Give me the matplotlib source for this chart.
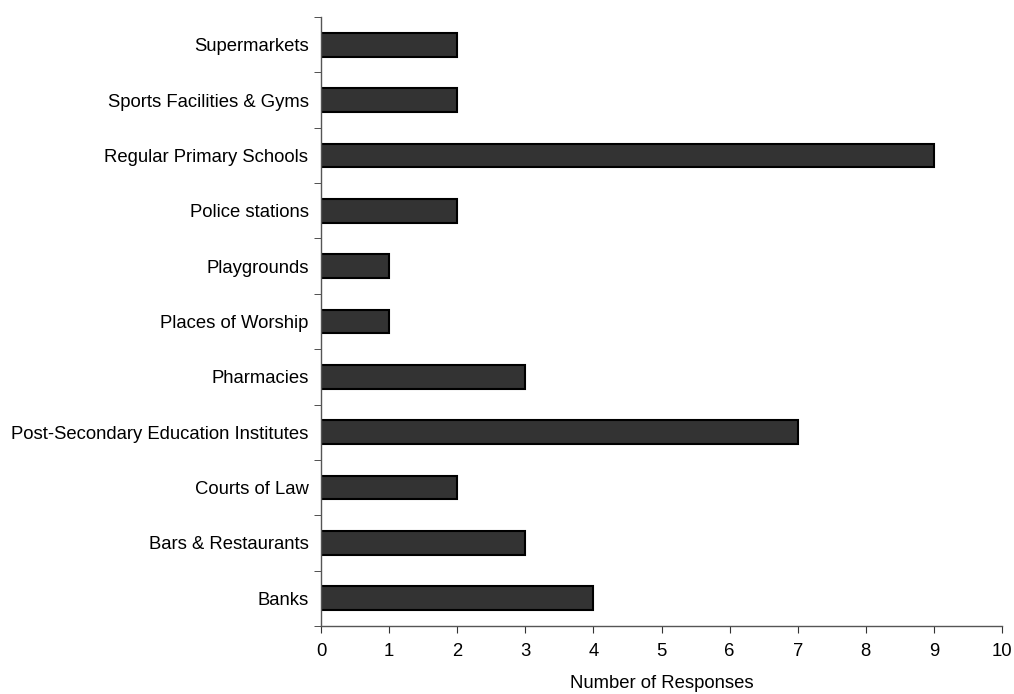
import matplotlib
matplotlib.use("Agg")
import matplotlib.pyplot as plt
import numpy as np

categories = ["Banks", "Bars & Restaurants", "Courts of Law",
              "Post-Secondary Education Institutes", "Pharmacies",
              "Places of Worship", "Playgrounds", "Police stations",
              "Regular Primary Schools", "Sports Facilities & Gyms",
              "Supermarkets"]
values = [4, 3, 2, 7, 3, 1, 1, 2, 9, 2, 2]
xticks = list(range(0, 11))

plt.rcParams['font.family'] = ['Liberation Sans', 'DejaVu Sans']
FS = 13.3

fig = plt.figure(figsize=(10.14, 6.94), dpi=100)
ax = fig.add_axes([321/1014, 1 - 626/694, (1002-321)/1014, (626-17)/694])

y = np.arange(len(categories))
ax.barh(y, values, height=0.43, color='#333333', edgecolor='black', linewidth=1.5)

ax.set_xlim(0, 10)
ax.set_ylim(-0.5, len(categories) - 0.5)
ax.set_xticks(xticks)
ax.set_xticklabels([str(t) for t in xticks], fontsize=FS)
ax.set_yticks(y)
ax.set_yticklabels(categories, fontsize=FS)
ax.set_yticks(np.arange(-0.5, len(categories)), minor=True)
ax.tick_params(axis='y', which='major', length=0, pad=9)
ax.tick_params(axis='y', which='minor', length=5, direction='out', color='#333333')
ax.tick_params(axis='x', which='major', length=5, direction='out', color='#333333', pad=7)

for s in ['top', 'right']:
    ax.spines[s].set_visible(False)
for s in ['left', 'bottom']:
    ax.spines[s].set_color('#555555')
    ax.spines[s].set_linewidth(1.0)

ax.set_xlabel("Number of Responses", fontsize=FS, labelpad=11)

fig.savefig("out.png", dpi=100)
